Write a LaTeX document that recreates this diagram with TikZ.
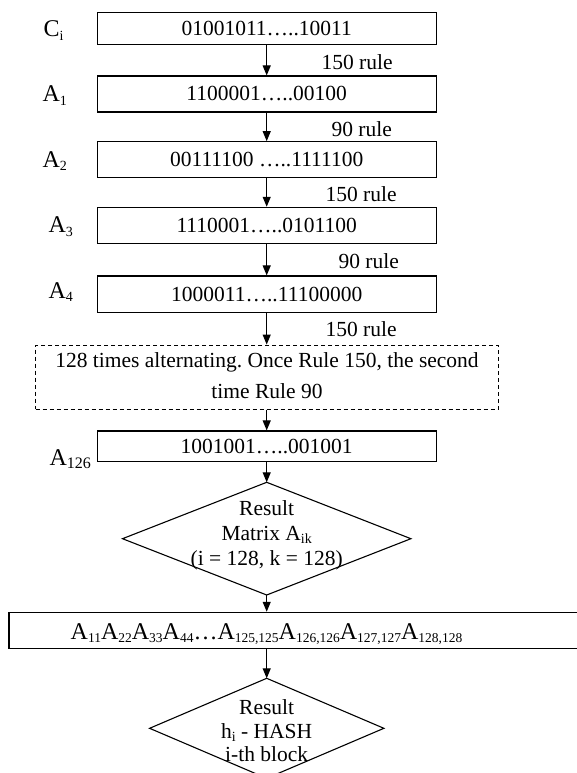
\documentclass[tikz,border=0pt]{standalone}
\usepackage{fontspec}
\setmainfont{Liberation Serif}
\usetikzlibrary{arrows.meta}
\frenchspacing
\newcommand{\mysb}[2][14]{\raisebox{-3.5pt}{\fontsize{#1}{#1}\selectfont #2}}
\begin{document}
\begin{tikzpicture}[x=1pt,y=-1pt,
  line width=1.1pt,
  bx/.style={draw, line width=1.1pt, minimum width=338.7pt, inner sep=0pt,
    font=\fontsize{21.5}{25}\selectfont},
  arr/.style={-{Triangle[length=10pt,width=8pt]}, line width=1.1pt},
  lbl/.style={anchor=base west, inner sep=0pt, font=\fontsize{24}{26}\selectfont},
  rl/.style={anchor=base west, inner sep=0pt, font=\fontsize{21.5}{25}\selectfont},
  txt/.style={inner sep=0pt, align=center}
]
\useasboundingbox (0,0) rectangle (576,773);

% boxes
\node[bx, minimum height=32.3pt] (ci) at (266.7,28.8) {01001011…..10011};
\node[bx, minimum height=36pt] (a1) at (266.7,94) {1100001…..00100};
\node[bx, minimum height=36pt] (a2) at (266.7,159.7) {00111100 …..1111100};
\node[bx, minimum height=36pt] (a3) at (266.7,225.3) {1110001…..0101100};
\node[bx, minimum height=36.7pt] (a4) at (266.7,294.3) {1000011…..11100000};
\node[draw, dash pattern=on 4pt off 3pt, line width=1pt, minimum width=462.6pt,
  minimum height=64.3pt, inner sep=0pt] (alt) at (267,377.2) {};
\node[txt, font=\fontsize{21.5}{30.5}\selectfont] (altt) at (267,375.4)
  {128 times alternating. Once Rule 150, the second\\time Rule 90};
\node[bx, minimum height=30.7pt] (a126) at (266.7,446.3) {1001001…..001001};

% diamond 1
\coordinate (d1t) at (266.7,482.3);
\coordinate (d1r) at (410.9,538.7);
\coordinate (d1b) at (266.7,595);
\coordinate (d1l) at (122.5,538.7);
\draw (d1t) -- (d1r) -- (d1b) -- (d1l) -- cycle;
\node[txt, font=\fontsize{21.5}{25}\selectfont] (d1txt) at (266.7,535)
  {Result\\Matrix A\mysb{ik}\\(i = 128, k = 128)};

% long box (its right side runs off the picture)
\node[draw, minimum width=572pt, minimum height=36pt, inner sep=0pt] (ab) at (295,630.3) {};
\node[anchor=base, inner sep=0pt, font=\fontsize{24}{26}\selectfont] (abt) at (266.5,639)
  {A\mysb[13.5]{11}A\mysb[13.5]{22}A\mysb[13.5]{33}A\mysb[13.5]{44}…A\mysb[13.5]{125,125}A\mysb[13.5]{126,126}A\mysb[13.5]{127,127}A\mysb[13.5]{128,128}};

% diamond 2
\coordinate (d2t) at (266.7,678.3);
\coordinate (d2r) at (383.9,728.3);
\coordinate (d2b) at (266.7,778.3);
\coordinate (d2l) at (149.6,728.3);
\draw (d2t) -- (d2r) -- (d2b) -- (d2l) -- cycle;
\node[txt, font=\fontsize{21.5}{23.5}\selectfont] (d2txt) at (266.7,731)
  {Result\\h\mysb{i} - HASH\\i-th block};

% left labels
\node[lbl] (lci) at (43,37) {C\mysb{i}};
\node[lbl] (la1) at (42,101.7) {A\mysb{1}};
\node[lbl] (la2) at (42,167) {A\mysb{2}};
\node[lbl] (la3) at (48,232.7) {A\mysb{3}};
\node[lbl] (la4) at (48,298) {A\mysb{4}};
\node[lbl] (la126) at (49,465) {A\mysb[16]{126}};

% rule labels
\node[rl] (r1) at (321,70) {150 rule};
\node[rl] (r2) at (331,136.7) {90 rule};
\node[rl] (r3) at (325,201.7) {150 rule};
\node[rl] (r4) at (338,268.3) {90 rule};
\node[rl] (r5) at (325,336.7) {150 rule};

% arrows
\draw[arr] (ci.south) -- (a1.north);
\draw[arr] (a1.south) -- (a2.north);
\draw[arr] (a2.south) -- (a3.north);
\draw[arr] (a3.south) -- (a4.north);
\draw[arr] (a4.south) -- (a4.south |- alt.north);
\draw[arr] (a126.north |- alt.south) -- (a126.north);
\draw[arr] (a126.south) -- (d1t);
\draw[arr] (d1b) -- (d1b |- ab.north);
\draw[arr] (d2t |- ab.south) -- (d2t);
\end{tikzpicture}
\end{document}
